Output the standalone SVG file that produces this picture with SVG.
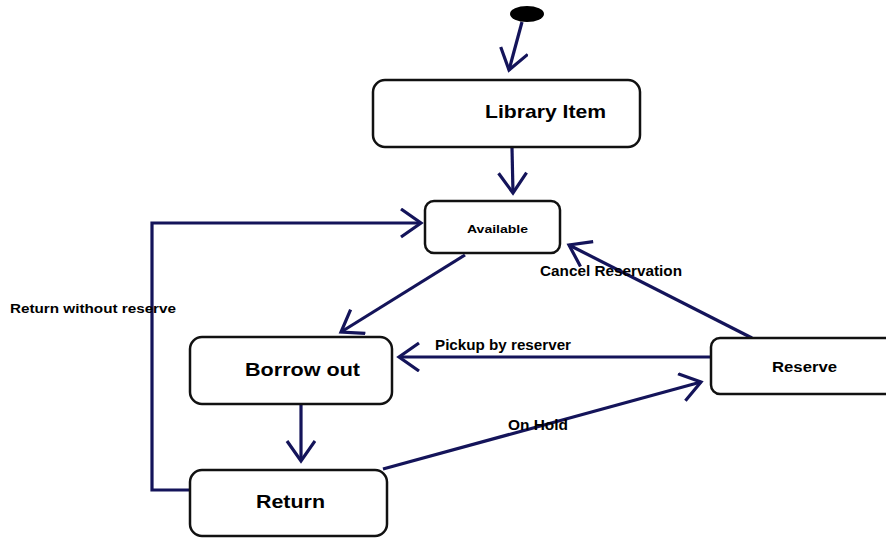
<svg xmlns="http://www.w3.org/2000/svg" width="886" height="538" viewBox="0 0 886 538">
  <style>
    .node rect { fill: #ffffff; stroke: #111111; stroke-width: 2.5; }
    .lbl { font-family: "Liberation Sans", Arial, sans-serif; font-weight: bold; fill: #000000; }
    .edge { fill: none; stroke: #14145a; stroke-width: 3.2; marker-end: url(#open); }
  </style>
  <defs>
    <marker id="open" markerUnits="userSpaceOnUse" markerWidth="34" markerHeight="34" refX="24" refY="15" orient="auto">
      <path d="M4 1 L24 15 L4 29" fill="none" stroke="#14145a" stroke-width="3.2"/>
    </marker>
  </defs>
  <rect width="886" height="538" fill="#ffffff"/>

  <g id="connectors">
    <path class="edge" d="M522 22 L509 70"/>
    <path class="edge" d="M512 148 L513 193"/>
    <path class="edge" d="M465 255 L341 332"/>
    <path class="edge" d="M301 405 L301 461"/>
    <path class="edge" d="M190 490 L152 490 L152 223 L421 223"/>
    <path class="edge" d="M711 357 L399 357"/>
    <path class="edge" d="M752 338 L569 245"/>
    <path class="edge" d="M383 469 L701 382"/>
  </g>

  <g id="edge-labels">
    <text class="lbl" x="10" y="313" font-size="13" textLength="166" lengthAdjust="spacingAndGlyphs">Return without reserve</text>
    <text class="lbl" x="540" y="276" font-size="14" textLength="142" lengthAdjust="spacingAndGlyphs">Cancel Reservation</text>
    <text class="lbl" x="435" y="350" font-size="14" textLength="136" lengthAdjust="spacingAndGlyphs">Pickup by reserver</text>
    <text class="lbl" x="508" y="430" font-size="14" textLength="60" lengthAdjust="spacingAndGlyphs">On Hold</text>
  </g>

  <g id="start">
    <ellipse cx="527" cy="14" rx="17" ry="8" fill="#000000"/>
  </g>

  <g id="library-item" class="node">
    <rect x="373" y="80" width="267" height="67" rx="12"/>
    <text class="lbl" x="485" y="118" font-size="19" textLength="121" lengthAdjust="spacingAndGlyphs">Library Item</text>
  </g>

  <g id="available" class="node">
    <rect x="425" y="201" width="135" height="52" rx="9"/>
    <text class="lbl" x="467" y="233" font-size="11" textLength="61" lengthAdjust="spacingAndGlyphs">Available</text>
  </g>

  <g id="borrow-out" class="node">
    <rect x="190" y="337" width="202" height="67" rx="12"/>
    <text class="lbl" x="245" y="376" font-size="19" textLength="115" lengthAdjust="spacingAndGlyphs">Borrow out</text>
  </g>

  <g id="return" class="node">
    <rect x="190" y="470" width="197" height="66" rx="12"/>
    <text class="lbl" x="256" y="508" font-size="19" textLength="69" lengthAdjust="spacingAndGlyphs">Return</text>
  </g>

  <g id="reserve" class="node">
    <rect x="711" y="338" width="185" height="56" rx="9"/>
    <text class="lbl" x="772" y="372" font-size="14" textLength="65" lengthAdjust="spacingAndGlyphs">Reserve</text>
  </g>
</svg>
